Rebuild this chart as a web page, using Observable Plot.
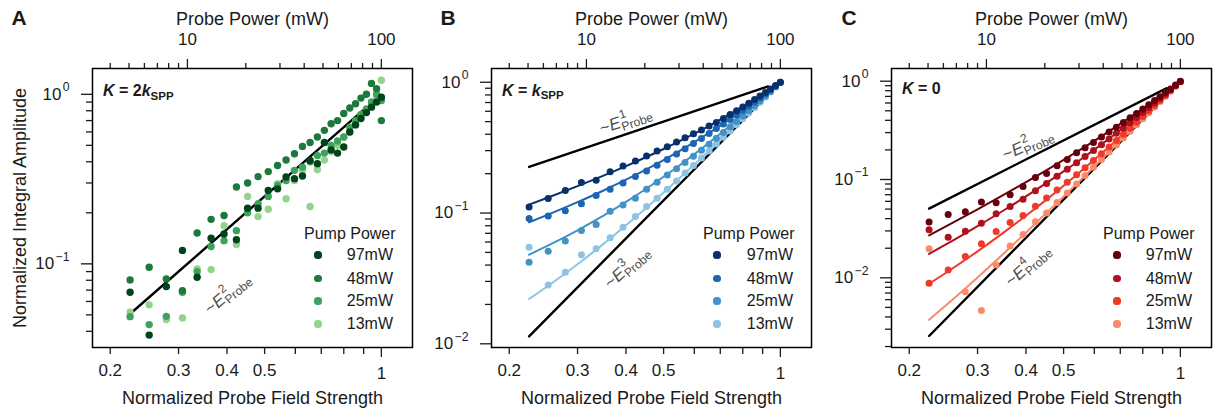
<!DOCTYPE html>
<html><head><meta charset="utf-8">
<script src="https://cdn.jsdelivr.net/npm/d3@7"></script>
<script src="https://cdn.jsdelivr.net/npm/@observablehq/plot@0.6"></script>
<style>
html,body{margin:0;padding:0;background:#fff;}
#wrap{position:relative;width:1213px;height:416px;overflow:hidden;font-family:"Liberation Sans",Arial,Helvetica,sans-serif;color:#1a1a1a;}
.panel{position:absolute;top:0;height:416px;}
.lg{position:absolute;font-size:16px;line-height:16px;white-space:nowrap;}
.lgdot{position:absolute;border-radius:50%;}
</style></head>
<body><div id="wrap"></div>
<script>
// ---------- data ----------
const E = [0.225, 0.252, 0.279, 0.307, 0.335, 0.364, 0.393, 0.423, 0.452, 0.481, 0.511, 0.54, 0.568, 0.597, 0.626, 0.655, 0.684, 0.713, 0.742, 0.771, 0.8, 0.829, 0.858, 0.886, 0.915, 0.943, 0.972, 1.0];
const pumpLabels = ["97mW", "48mW", "25mW", "13mW"];
const greens = ["#00441b", "#1b7a3b", "#3da35a", "#93d38d"];
const blues  = ["#08306b", "#1d65b0", "#4292c6", "#8ec4e3"];
const reds   = ["#67000d", "#b0101c", "#ee3a2b", "#fc8a6a"];

// Panel A (K = 2k_SPP)
const A97 = [0.068, 0.038, 0.0734, 0.12, 0.0834, 0.1416, 0.15, 0.1386, 0.213, 0.213, 0.271, 0.277, 0.325, 0.318, 0.33, 0.407, 0.39, 0.52, 0.47, 0.45, 0.489, 0.6, 0.66, 0.72, 0.78, 0.84, 0.9, 0.96];
const A48 = [0.0804, 0.0955, 0.0815, 0.0695, 0.152, 0.183, 0.193, 0.284, 0.30, 0.327, 0.35, 0.38, 0.41, 0.446, 0.493, 0.52, 0.56, 0.613, 0.67, 0.70, 0.77, 0.83, 0.88, 0.95, 1.0, 1.16, 1.08, 0.70];
const A25 = [0.0488, 0.0438, 0.049, 0.068, 0.09, 0.1265, 0.137, 0.157, 0.20, 0.226, 0.25, 0.29, 0.31, 0.356, 0.372, 0.40, 0.435, 0.45, 0.5, 0.53, 0.56, 0.64, 0.7, 0.76, 0.82, 0.9, 1.0, 0.92];
const A13 = [0.0518, 0.0573, 0.047, 0.048, 0.0934, 0.0925, 0.168, 0.13, 0.25, 0.19, 0.21, 0.297, 0.242, 0.31, 0.356, 0.218, 0.36, 0.41, 0.46, 0.5, 0.56, 0.6, 0.68, 0.74, 0.8, 0.86, 0.98, 1.21];

// Panel B (K = k_SPP)
const B97 = [0.111, 0.129, 0.149, 0.171, 0.178, 0.207, 0.229, 0.25, 0.273, 0.298, 0.321, 0.35, 0.377, 0.403, 0.432, 0.462, 0.493, 0.528, 0.566, 0.606, 0.648, 0.692, 0.738, 0.785, 0.836, 0.887, 0.943, 1.0];
const B48 = [0.091, 0.095, 0.104, 0.118, 0.136, 0.152, 0.17, 0.19, 0.21, 0.232, 0.257, 0.283, 0.31, 0.34, 0.372, 0.406, 0.442, 0.48, 0.52, 0.563, 0.608, 0.656, 0.706, 0.758, 0.815, 0.872, 0.935, 0.998];
const B25 = [0.042, 0.051, 0.061, 0.0735, 0.0817, 0.103, 0.115, 0.13, 0.152, 0.172, 0.195, 0.218, 0.243, 0.272, 0.302, 0.336, 0.373, 0.413, 0.456, 0.502, 0.552, 0.605, 0.662, 0.72, 0.785, 0.85, 0.925, 0.995];
const B13 = [0.0548, 0.0282, 0.0353, 0.0479, 0.0532, 0.0646, 0.0779, 0.094, 0.112, 0.13, 0.152, 0.176, 0.202, 0.231, 0.263, 0.298, 0.337, 0.379, 0.424, 0.473, 0.525, 0.582, 0.642, 0.704, 0.772, 0.843, 0.92, 0.995];

// Panel C (K = 0)
const C97 = [0.037, 0.044, 0.047, 0.059, 0.058, 0.07, 0.085, 0.105, 0.115, 0.138, 0.16, 0.187, 0.21, 0.238, 0.27, 0.305, 0.34, 0.38, 0.425, 0.47, 0.52, 0.575, 0.635, 0.695, 0.765, 0.835, 0.915, 1.0];
const C48 = [0.0308, 0.0259, 0.0298, 0.0359, 0.0448, 0.0531, 0.063, 0.077, 0.091, 0.108, 0.127, 0.148, 0.171, 0.197, 0.226, 0.258, 0.295, 0.335, 0.378, 0.426, 0.48, 0.537, 0.6, 0.667, 0.742, 0.82, 0.905, 0.99];
const C25 = [0.0088, 0.012, 0.0165, 0.0222, 0.0295, 0.0365, 0.043, 0.0535, 0.065, 0.078, 0.094, 0.112, 0.132, 0.156, 0.183, 0.214, 0.249, 0.289, 0.333, 0.383, 0.438, 0.498, 0.565, 0.636, 0.716, 0.8, 0.895, 0.99];
const C13 = [0.0197, null, 0.0072, 0.00465, 0.0135, 0.0211, 0.0275, 0.0372, 0.0455, 0.0585, 0.073, 0.09, 0.11, 0.133, 0.16, 0.19, 0.225, 0.265, 0.31, 0.36, 0.415, 0.478, 0.547, 0.62, 0.704, 0.793, 0.894, 0.985];

// fitted curves
const fitE = [0.225, 0.25, 0.3, 0.35, 0.4, 0.45, 0.5, 0.55, 0.6, 0.65, 0.7, 0.75, 0.8, 0.85, 0.9, 0.95, 1.0];
const Bfit97 = [0.116, 0.1304, 0.1607, 0.1933, 0.2285, 0.2669, 0.3087, 0.3542, 0.404, 0.4584, 0.5178, 0.5826, 0.6531, 0.7296, 0.8127, 0.9027, 1.0];
const Bfit48 = [0.085, 0.0964, 0.1211, 0.1487, 0.1798, 0.2148, 0.2542, 0.2985, 0.3484, 0.404, 0.466, 0.535, 0.6113, 0.6954, 0.7879, 0.8893, 1.0];
const Bfit25 = [0.048, 0.0558, 0.0738, 0.0955, 0.1216, 0.1526, 0.1893, 0.2321, 0.2818, 0.339, 0.4042, 0.4781, 0.5614, 0.6546, 0.7583, 0.8733, 1.0];
const Bfit13 = [0.022, 0.0273, 0.0406, 0.0581, 0.0807, 0.109, 0.1436, 0.1854, 0.2351, 0.2933, 0.3608, 0.4382, 0.5263, 0.6258, 0.7375, 0.862, 1.0];
const Cfit97 = [0.027, 0.0337, 0.0498, 0.0697, 0.094, 0.1232, 0.158, 0.1989, 0.2469, 0.3027, 0.3673, 0.4417, 0.5269, 0.6241, 0.7345, 0.8593, 1.0];
const Cfit48 = [0.0175, 0.0221, 0.0336, 0.0484, 0.0674, 0.0912, 0.1208, 0.1571, 0.2013, 0.2544, 0.3178, 0.3929, 0.4812, 0.5844, 0.7039, 0.8419, 1.0];
const Cfit25 = [0.0087, 0.0114, 0.0186, 0.0288, 0.0428, 0.0617, 0.0865, 0.1185, 0.1591, 0.2097, 0.2721, 0.3479, 0.4391, 0.5477, 0.6758, 0.8257, 1.0];
const Cfit13 = [0.00374, 0.00534, 0.0101, 0.0176, 0.0289, 0.045, 0.0671, 0.0967, 0.1353, 0.1845, 0.2463, 0.3224, 0.4152, 0.527, 0.6599, 0.8167, 1.0];

// black power-law guide lines (end points)
const refA_E = [0.226, 0.9],  refA_V = [0.0511, 0.81];
const refB1_E = [0.225, 0.93], refB1_V = [0.225, 0.93];
const refB3_E = [0.225, 0.93], refB3_V = [0.0114, 0.804];
const refC2_E = [0.225, 0.92], refC2_V = [0.0506, 0.846];
const refC4_E = [0.225, 0.92], refC4_V = [0.00256, 0.716];

// ticks
const xMinorTicks = [0.6, 0.7, 0.8, 0.9];
const xLabeledTicks = [0.2, 0.3, 0.4, 0.5];
const xLabeledTickLabels = ["0.2", "0.3", "0.4", "0.5"];
const xMajorTicks = [1];
const xMajorTickLabels = ["1"];
const topMinorPowers = [4, 5, 6, 7, 8, 9, 20, 30, 40, 50, 60, 70, 80, 90];
const topMajorPowers = [10, 100];
const topMajorLabels = ["10", "100"];
const yMinorA = [0.04, 0.05, 0.06, 0.07, 0.08, 0.09, 0.2, 0.3, 0.4, 0.5, 0.6, 0.7, 0.8, 0.9];
const yMinorB = [0.02, 0.03, 0.04, 0.05, 0.06, 0.07, 0.08, 0.09, 0.2, 0.3, 0.4, 0.5, 0.6, 0.7, 0.8, 0.9];
const yMinorC = [0.002, 0.003, 0.004, 0.005, 0.006, 0.007, 0.008, 0.009, 0.02, 0.03, 0.04, 0.05, 0.06, 0.07, 0.08, 0.09, 0.2, 0.3, 0.4, 0.5, 0.6, 0.7, 0.8, 0.9];
const yMajorA = [0.1, 1], yMajorLabelsA = ["10^{−1}", "10^{0}"];
const yMajorBC = [0.01, 0.1, 1], yMajorLabelsBC = ["10^{−2}", "10^{−1}", "10^{0}"];

// probe power (mW) = 100 * E^2  -> position on the shared field-strength scale
const powerToE = p => Math.sqrt(p / 100);

const panels = [
  {key: "A", left: 0, width: 415, ml: 92, mr: 3, yDomain: [0.0321, 1.42], yMajor: yMajorA, yMajorLabels: yMajorLabelsA, yMinor: yMinorA,
   colors: greens, series: [A97, A48, A25, A13], fits: null, r: 3.7,
   refs: [[refA_E, refA_V]],
   ann: [{E: 0.401, A: 0.0668, t: "~*E*^{2}_{Probe}", rot: -40}],
   k: "*K* = 2*k*_{SPP}", kdy: 22.5, letterDx: -81, yTitle: true,
   legend: {titleLeft: 304, dotX: 318, labelRight: 393}},
  {key: "B", left: 415, width: 400, ml: 76, mr: 4, yDomain: [0.00937, 1.274], yMajor: yMajorBC, yMajorLabels: yMajorLabelsBC, yMinor: yMinorB,
   colors: blues, series: [B97, B48, B25, B13], fits: [Bfit97, Bfit48, Bfit25, Bfit13], r: 3.5,
   refs: [[refB1_E, refB1_V], [refB3_E, refB3_V]],
   ann: [{E: 0.399, A: 0.51, t: "~*E*^{1}_{Probe}", rot: -18.6}, {E: 0.402, A: 0.0385, t: "~*E*^{3}_{Probe}", rot: -42}],
   k: "*K* = *k*_{SPP}", kdy: 22, letterDx: -51, yTitle: false,
   legend: {titleLeft: 703, dotX: 717, labelRight: 793}},
  {key: "C", left: 815, width: 398, ml: 76, mr: 2, yDomain: [0.001955, 1.346], yMajor: yMajorBC, yMajorLabels: yMajorLabelsBC, yMinor: yMinorC,
   colors: reds, series: [C97, C48, C25, C13], fits: [Cfit97, Cfit48, Cfit25, Cfit13], r: 3.5,
   refs: [[refC2_E, refC2_V], [refC4_E, refC4_V]],
   ann: [{E: 0.404, A: 0.227, t: "~*E*^{2}_{Probe}", rot: -24}, {E: 0.404, A: 0.01334, t: "~*E*^{4}_{Probe}", rot: -42}],
   k: "*K* = 0", kdy: 20, letterDx: -50, yTitle: false,
   legend: {titleLeft: 1103, dotX: 1117, labelRight: 1192}}
];

function makePlot(p) {
  const xLab = new Map(xLabeledTicks.map((t, i) => [t, xLabeledTickLabels[i]]));
  const xMaj = new Map(xMajorTicks.map((t, i) => [t, xMajorTickLabels[i]]));
  const topMajorE = topMajorPowers.map(powerToE);
  const topLab = new Map(topMajorE.map((t, i) => [t, topMajorLabels[i]]));
  const yLab = new Map(p.yMajor.map((t, i) => [t, p.yMajorLabels[i]]));
  const marks = [];
  marks.push(Plot.axisX({anchor: "bottom", ticks: xMinorTicks, tickSize: 7, tickFormat: () => "", label: null, strokeWidth: 1.3}));
  marks.push(Plot.axisX({anchor: "bottom", ticks: xLabeledTicks, tickSize: 7, tickPadding: 9, tickFormat: d => xLab.get(d), label: null, strokeWidth: 1.3}));
  marks.push(Plot.axisX({anchor: "bottom", ticks: xMajorTicks, tickSize: 10, tickPadding: 9, tickFormat: d => xMaj.get(d), label: null, strokeWidth: 1.3}));
  marks.push(Plot.axisX({anchor: "top", ticks: topMinorPowers.map(powerToE), tickSize: 6, tickFormat: () => "", label: null, strokeWidth: 1.3}));
  marks.push(Plot.axisX({anchor: "top", ticks: topMajorE, tickSize: 10, tickPadding: 14, tickFormat: d => topLab.get(d), label: null, strokeWidth: 1.3}));
  marks.push(Plot.axisY({anchor: "left", ticks: p.yMinor, tickSize: 6, tickFormat: () => "", label: null, strokeWidth: 1.3}));
  marks.push(Plot.axisY({anchor: "left", ticks: p.yMajor, tickSize: 11, tickPadding: 12, tickFormat: d => yLab.get(d), label: null, strokeWidth: 1.3}));

  for (const [re, rv] of p.refs) {
    marks.push(Plot.line(re.map((e, i) => ({E: e, A: rv[i]})), {x: "E", y: "A", stroke: "#000", strokeWidth: 2.4}));
  }
  if (p.fits) {
    p.fits.forEach((f, k) => {
      marks.push(Plot.line(fitE.map((e, i) => ({E: e, A: f[i]})), {x: "E", y: "A", stroke: p.colors[k], strokeWidth: 2, curve: "monotone-x"}));
    });
  }
  for (let k = 3; k >= 0; k--) {
    const rows = E.map((e, i) => ({E: e, A: p.series[k][i]})).filter(d => d.A != null);
    marks.push(Plot.dot(rows, {x: "E", y: "A", r: p.r, fill: p.colors[k]}));
  }
  for (const a of p.ann) {
    marks.push(Plot.text([a], {x: "E", y: "A", text: "t", rotate: a.rot, fontSize: 17, fill: "#505050", textAnchor: "middle", lineAnchor: "middle"}));
  }
  marks.push(Plot.text([p.k], {frameAnchor: "top-left", dx: 10.5, dy: p.kdy, fontSize: 16, fontWeight: "bold", textAnchor: "start", lineAnchor: "middle"}));
  marks.push(Plot.text([p.key], {frameAnchor: "top-left", dx: p.letterDx, dy: -50.5, fontSize: 21, fontWeight: "bold", textAnchor: "start", lineAnchor: "middle"}));
  marks.push(Plot.text(["Probe Power (mW)"], {frameAnchor: "top", dy: -49.5, fontSize: 18, textAnchor: "middle", lineAnchor: "middle"}));
  marks.push(Plot.text(["Normalized Probe Field Strength"], {frameAnchor: "bottom", dy: 51, fontSize: 18, textAnchor: "middle", lineAnchor: "middle"}));
  if (p.yTitle) marks.push(Plot.text(["Normalized Integral Amplitude"], {frameAnchor: "left", dx: -72, rotate: -90, fontSize: 18, textAnchor: "middle", lineAnchor: "middle"}));
  marks.push(Plot.frame({stroke: "#000", strokeWidth: 1.5}));

  return Plot.plot({
    width: p.width, height: 416,
    marginTop: 68, marginBottom: 69, marginLeft: p.ml, marginRight: p.mr,
    x: {type: "log", domain: [0.18, 1.203]},
    y: {type: "log", domain: p.yDomain},
    style: {fontFamily: "'Liberation Sans', Arial, Helvetica, sans-serif", fontSize: "17px", color: "#1a1a1a", background: "transparent", overflow: "visible"},
    marks
  });
}

// rich text: *italic*, ^{sup}, _{sub} (sub directly after sup is stacked under it)
function parseRich(s) {
  const out = []; let italic = false; let buf = ""; let i = 0;
  const flush = () => { if (buf) { out.push({text: buf, kind: "n", italic}); buf = ""; } };
  while (i < s.length) {
    const c = s[i];
    if (c === "*") { flush(); italic = !italic; i++; continue; }
    if ((c === "^" || c === "_") && s[i + 1] === "{") {
      flush(); const j = s.indexOf("}", i);
      out.push({text: s.slice(i + 2, j), kind: c === "^" ? "sup" : "sub", italic});
      i = j + 1; continue;
    }
    buf += c; i++;
  }
  flush(); return out;
}
function richify(svg) {
  const SVGNS = "http://www.w3.org/2000/svg";
  svg.querySelectorAll("text").forEach(t => {
    if (t.querySelector("tspan")) return;
    const s = t.textContent;
    if (!/[\^_*]/.test(s)) return;
    const fs = parseFloat(getComputedStyle(t).fontSize) || 17;
    const segs = parseRich(s);
    t.textContent = "";
    let shift = 0, prevSup = null, prevSupDx = 0;
    for (const seg of segs) {
      const ts = document.createElementNS(SVGNS, "tspan");
      ts.textContent = seg.text;
      if (seg.italic) ts.setAttribute("font-style", "italic");
      let target = 0, dx = 0;
      if (seg.kind === "sup") { target = -fs * 0.5; ts.setAttribute("font-size", (fs * 0.72).toFixed(1)); dx = fs * 0.08; }
      else if (seg.kind === "sub") { target = fs * 0.22; ts.setAttribute("font-size", (fs * 0.72).toFixed(1)); }
      const dy = target - shift;
      if (dy) ts.setAttribute("dy", dy.toFixed(2));
      shift = target;
      if (seg.kind === "sub" && prevSup) dx = -(prevSup.getComputedTextLength() + prevSupDx);
      if (dx) ts.setAttribute("dx", dx.toFixed(2));
      t.appendChild(ts);
      prevSup = seg.kind === "sup" ? ts : null;
      prevSupDx = seg.kind === "sup" ? dx : 0;
    }
  });
}

const legendTitleBaseline = 239;
const legendRowY = [255, 278.5, 301, 324];
function addLegend(wrap, p) {
  const L = p.legend;
  const title = document.createElement("div");
  title.className = "lg";
  title.textContent = "Pump Power";
  title.style.left = L.titleLeft + "px";
  title.style.top = (legendTitleBaseline - 13.5) + "px";
  wrap.appendChild(title);
  pumpLabels.forEach((lab, i) => {
    const cy = legendRowY[i];
    const dot = document.createElement("div");
    dot.className = "lgdot";
    const r = 3.6;
    dot.style.left = (L.dotX - r) + "px"; dot.style.top = (cy - r) + "px";
    dot.style.width = (2 * r) + "px"; dot.style.height = (2 * r) + "px";
    dot.style.background = p.colors[i];
    wrap.appendChild(dot);
    const tx = document.createElement("div");
    tx.className = "lg";
    tx.textContent = lab;
    tx.style.left = (L.labelRight - 70) + "px"; tx.style.width = "70px"; tx.style.textAlign = "right";
    tx.style.top = (cy + 5.7 - 13.5) + "px";
    wrap.appendChild(tx);
  });
}

const wrap = document.getElementById("wrap");
for (const p of panels) {
  const div = document.createElement("div");
  div.className = "panel";
  div.style.left = p.left + "px";
  div.style.width = p.width + "px";
  const svg = makePlot(p);
  div.appendChild(svg);
  wrap.appendChild(div);
  richify(svg);
  addLegend(wrap, p);
}
</script>
</body></html>
